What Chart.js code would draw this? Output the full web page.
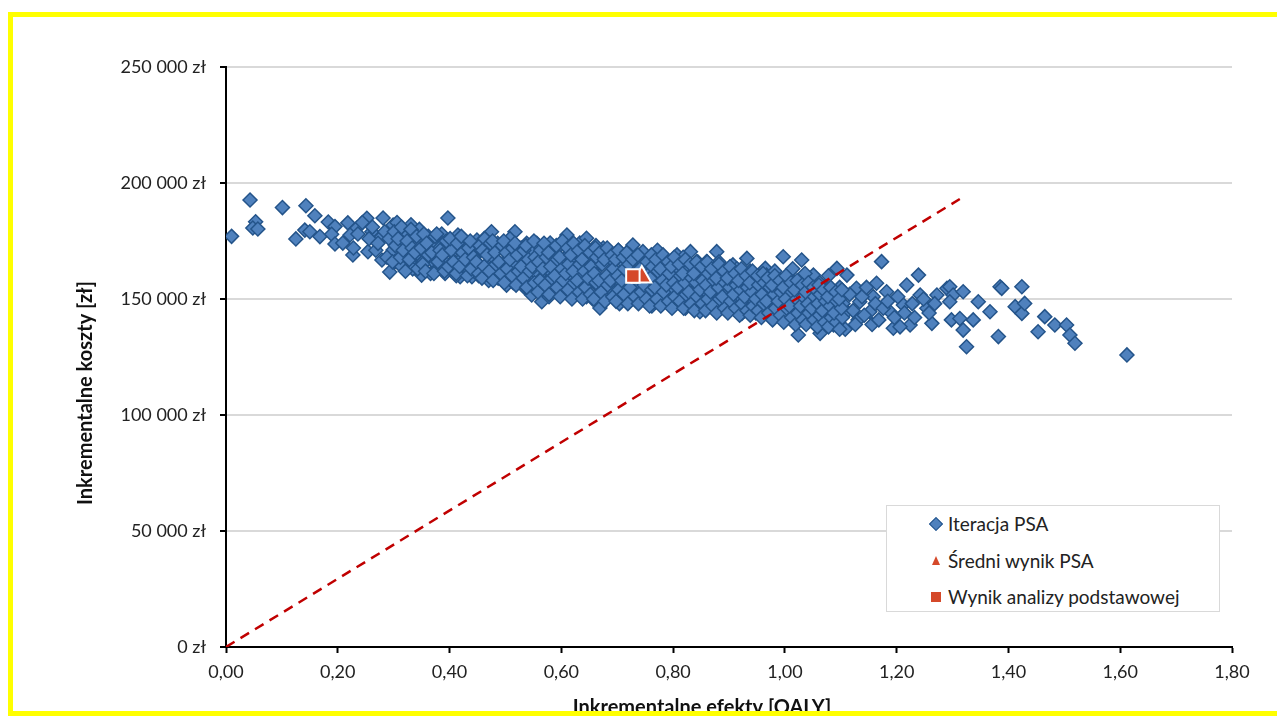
<!DOCTYPE html>
<html lang="pl">
<head>
<meta charset="utf-8">
<title>PSA – płaszczyzna kosztów i efektów</title>
<script src="https://cdn.jsdelivr.net/npm/chart.js@4.4.1/dist/chart.umd.min.js"></script>
<style>
  html,body{margin:0;padding:0;background:#fff;overflow:hidden}
  #wrap{position:relative;width:1277px;height:716px}
  #chart{position:absolute;left:0;top:0}
  #frame{position:absolute;left:8px;top:12px;width:1300px;height:704px;border:5px solid #ffff00;box-sizing:border-box;pointer-events:none;z-index:3}
  #legend{position:absolute;left:886px;top:505px;width:334px;height:107px;box-sizing:border-box;border:1px solid #d9d9d9;background:#fff;font:19px Lato,sans-serif;color:#222;z-index:2}
  .item{position:absolute;left:0;width:100%;height:24px}
  .item .txt{position:absolute;left:61px;top:0;line-height:24px;white-space:nowrap}
  .mk{position:absolute}
  .mk.dia{left:44px;top:7px;width:8px;height:8px;background:#4F81BD;border:1px solid #24548A;transform:rotate(45deg)}
  .mk.tri{left:45px;top:7px;width:0;height:0;border-left:4.5px solid transparent;border-right:4.5px solid transparent;border-bottom:9px solid #D5492A}
  .mk.sq{left:44px;top:7px;width:10px;height:10px;background:#D5492A}
</style>
</head>
<body>
<div id="wrap">
  <canvas id="chart" width="1277" height="716"></canvas>
  <div id="legend">
    <div class="item" style="top:6px"><div class="mk dia"></div><span class="txt">Iteracja PSA</span></div>
    <div class="item" style="top:43px"><div class="mk tri"></div><span class="txt">Średni wynik PSA</span></div>
    <div class="item" style="top:79px"><div class="mk sq"></div><span class="txt">Wynik analizy podstawowej</span></div>
  </div>
  <div id="frame"></div>
</div>
<script>
/* ------------ data (QALY, koszt w tys. zł) ------------ */
// pojedyncze punkty (brzegi chmury)
const psaSparse = [
  [0.010,177.0],[0.043,192.7],[0.053,183.3],[0.048,180.6],[0.057,180.2],[0.101,189.4],[0.125,175.9],[0.143,190.2],
  [0.159,185.9],[0.141,179.7],[0.150,179.0],[0.168,176.9],[0.183,183.2],[0.195,181.2],[0.189,177.9],[0.195,173.7],
  [0.218,182.8],[0.209,174.1],[0.227,169.0],[0.234,180.5],[0.222,177.6],[0.252,184.8],[0.254,170.4],[0.261,179.0],
  [0.281,184.9],[0.276,176.3],[0.293,161.6],[0.279,166.8],[0.299,171.1],[0.311,174.1],[0.311,179.0],[0.299,181.9],
  [0.323,169.0],[0.397,184.9],[0.350,160.3],[0.323,179.0],[0.335,176.9],[0.323,169.8],[0.347,172.5],[0.371,174.1],
  [0.371,166.1],[0.389,175.4],[0.401,171.1],[0.415,177.6],[0.419,159.6],[0.428,166.8],[0.440,159.6],[0.449,175.4],
  [0.457,163.9],[0.475,179.0],[0.475,169.0],[0.490,172.5],[0.487,159.0],[0.502,156.0],[0.517,179.0],[0.511,161.8],
  [0.523,169.8],[0.538,174.0],[0.544,163.9],[0.547,151.7],[0.565,148.8],[0.562,159.6],[0.567,169.8],[0.580,174.1],
  [0.592,165.4],[0.610,177.6],[0.612,169.0],[0.621,159.6],[0.633,174.1],[0.639,151.0],[0.642,164.7],[0.645,176.2],
  [0.669,146.1],[0.645,151.0],[0.657,163.4],[0.675,172.0],[0.687,156.0],[0.693,166.1],[0.728,173.3],[0.710,151.7],
  [0.746,170.4],[0.753,148.8],[0.771,164.7],[0.777,153.1],[0.789,158.9],[0.807,169.0],[0.813,148.8],[0.825,163.2],
  [0.831,170.4],[0.842,156.0],[0.848,144.5],[0.860,166.1],[0.878,170.4],[0.871,151.7],[0.884,160.3],[0.902,146.0],
  [0.907,164.7],[0.920,154.6],[0.932,167.5],[0.923,143.8],[0.943,158.9],[0.955,150.3],[0.965,163.2],[0.997,168.2],
  [1.173,166.1],[0.967,160.3],[0.967,148.8],[0.985,156.0],[0.991,144.5],[1.021,141.0],[1.024,134.5],[1.030,166.8],
  [1.009,158.9],[1.033,151.7],[1.051,160.3],[1.063,135.2],[1.069,147.4],[1.075,156.0],[1.093,163.2],[1.087,138.8],
  [1.111,160.3],[1.111,144.5],[1.128,154.6],[1.131,141.0],[1.134,148.8],[1.152,144.5],[1.164,156.8],[1.158,151.0],
  [1.182,153.1],[1.188,144.5],[1.194,137.4],[1.218,156.0],[1.212,147.4],[1.224,138.8],[1.239,160.3],[1.242,151.7],
  [1.254,146.0],[1.263,139.5],[1.272,151.7],[1.290,154.6],[1.295,155.3],[1.301,151.7],[1.295,148.8],[1.319,153.1],
  [1.298,141.0],[1.313,141.6],[1.319,136.6],[1.337,141.0],[1.325,129.4],[1.346,148.8],[1.367,144.5],[1.382,133.8],
  [1.385,155.3],[1.388,154.6],[1.424,155.3],[1.412,146.7],[1.424,143.8],[1.429,148.1],[1.453,135.9],[1.465,142.4],
  [1.483,138.8],[1.504,138.8],[1.510,134.5],[1.519,130.9],[1.612,125.9]
];

// wnętrze chmury – punkty szacowane z gęstego pasa
const psaFill = [
  [0.228,172],[0.236,178],[0.244,183],[0.256,176],[0.262,181],[0.268,171],[0.272,174],[0.284,179],[0.288,168],
  [0.292,176],[0.302,166],[0.306,183],[0.314,164],[0.318,171],[0.326,178],[0.331,182],[0.334,163],[0.338,168],
  [0.342,175],[0.346,180],[0.352,166],[0.356,171],[0.362,177],[0.366,161],[0.374,168],[0.378,163],[0.382,172],
  [0.386,178],[0.392,161],[0.396,165],[0.404,170],[0.408,174],[0.412,160],[0.418,164],[0.424,168],[0.432,173],
  [0.436,162],[0.444,167],[0.452,160],[0.456,171],[0.462,176],[0.466,164],[0.470,158],[0.478,163],[0.482,167],
  [0.486,174],[0.494,161],[0.498,166],[0.506,170],[0.508,176],[0.514,157],[0.518,164],[0.526,160],[0.528,172],
  [0.534,155],[0.536,167],[0.542,158],[0.548,170],[0.552,162],[0.556,174],[0.558,154],[0.566,165],[0.572,157],
  [0.574,171],[0.578,151],[0.584,161],[0.588,168],[0.594,155],[0.598,173],[0.602,158],[0.606,163],[0.614,152],
  [0.618,167],[0.624,171],[0.628,155],[0.632,161],[0.636,166],[0.648,157],[0.652,168],[0.656,150],[0.662,173],
  [0.664,160],[0.668,155],[0.672,165],[0.678,151],[0.682,169],[0.684,159],[0.692,153],[0.696,162],[0.702,171],
  [0.704,148],[0.708,157],[0.714,165],[0.718,152],[0.722,169],[0.726,150],[0.734,164],[0.738,155],[0.742,167],
  [0.748,152],[0.756,161],[0.758,168],[0.762,147],[0.766,157],[0.772,171],[0.776,150],[0.782,162],[0.786,166],
  [0.792,148],[0.796,154],[0.802,160],[0.806,164],[0.812,152],[0.818,168],[0.822,146],[0.826,157],[0.834,150],
  [0.838,162],[0.844,166],[0.852,153],[0.856,159],[0.862,148],[0.866,163],[0.874,157],[0.876,145],[0.882,166],
  [0.888,150],[0.892,154],[0.896,161],[0.904,157],[0.912,148],[0.914,163],[0.918,151],[0.926,159],[0.928,145],
  [0.934,155],[0.938,162],[0.946,149],[0.948,144],[0.952,157],[0.958,153],[0.962,146],[0.972,152],[0.974,158],
  [0.978,143],[0.982,162],[0.988,149],[0.994,154],[1.002,146],[1.004,159],[1.008,151],[1.014,163],[1.016,143],
  [1.022,156],[1.028,148],[1.036,161],[1.038,140],[1.042,153],[1.046,145],[1.054,150],[1.058,138],[1.062,157],
  [1.066,142],[1.072,153],[1.078,160],[1.082,146],[1.088,150],[1.096,141],[1.098,155],[1.104,148],[1.108,137],
  [1.116,152],[1.122,145],[1.126,139],[1.138,151],[1.142,143],[1.146,155],[1.156,139],[1.162,148],[1.168,141],
  [1.176,146],[1.184,149],[1.196,142],[1.202,151],[1.206,138],[1.214,144],[1.228,148],[1.232,142],[1.248,150],
  [1.258,144],[1.268,148]
];

// rdzeń pasa – najgęstsza część chmury
const psaCore = [
  [0.298,166],[0.303,173],[0.301,179],[0.312,168],[0.308,176],[0.314,181],[0.321,162],[0.317,171],[0.324,175],
  [0.328,167],[0.333,172],[0.331,180],[0.343,163],[0.338,170],[0.341,177],[0.352,165],[0.349,172],[0.354,178],
  [0.357,162],[0.362,169],[0.359,174],[0.372,161],[0.368,170],[0.374,177],[0.379,166],[0.383,171],[0.377,178],
  [0.391,162],[0.387,169],[0.394,175],[0.398,164],[0.403,171],[0.401,176],[0.412,161],[0.407,166],[0.414,174],
  [0.418,164],[0.423,170],[0.421,177],[0.432,160],[0.428,167],[0.434,172],[0.439,163],[0.443,168],[0.437,175],
  [0.452,161],[0.448,166],[0.454,173],[0.458,159],[0.462,164],[0.459,171],[0.463,176],[0.471,162],[0.467,169],
  [0.473,174],[0.478,158],[0.483,165],[0.481,170],[0.477,175],[0.492,161],[0.488,166],[0.494,173],[0.498,157],
  [0.503,163],[0.501,170],[0.497,175],[0.512,160],[0.508,167],[0.513,172],[0.519,156],[0.523,162],[0.521,169],
  [0.517,174],[0.532,159],[0.528,164],[0.533,171],[0.538,155],[0.543,162],[0.541,167],[0.537,173],[0.552,157],
  [0.548,164],[0.553,168],[0.551,175],[0.558,153],[0.562,158],[0.559,166],[0.563,171],[0.571,156],[0.567,163],
  [0.573,168],[0.569,174],[0.578,152],[0.583,159],[0.581,164],[0.577,170],[0.592,155],[0.588,160],[0.593,167],
  [0.591,173],[0.598,151],[0.603,158],[0.601,163],[0.597,168],[0.602,175],[0.612,154],[0.608,161],[0.613,165],
  [0.611,172],[0.619,150],[0.623,157],[0.621,162],[0.617,169],[0.622,174],[0.632,153],[0.628,158],[0.633,165],
  [0.631,171],[0.638,150],[0.643,155],[0.641,162],[0.637,167],[0.642,173],[0.652,152],[0.648,159],[0.653,164],
  [0.651,170],[0.658,150],[0.662,157],[0.659,161],[0.663,168],[0.661,172],[0.671,153],[0.667,158],[0.673,165],
  [0.669,170],[0.678,149],[0.683,156],[0.681,160],[0.677,167],[0.682,172],[0.692,151],[0.688,158],[0.693,163],
  [0.691,169],[0.698,149],[0.703,154],[0.701,160],[0.697,167],[0.702,171],[0.712,152],[0.708,158],[0.713,163],
  [0.711,168],[0.719,148],[0.723,155],[0.721,165],[0.717,170],[0.732,151],[0.728,167],[0.738,148],[0.743,153],
  [0.741,163],[0.737,169],[0.752,150],[0.748,156],[0.753,166],[0.758,147],[0.762,154],[0.759,159],[0.763,164],
  [0.761,169],[0.771,150],[0.767,155],[0.773,162],[0.769,167],[0.778,147],[0.783,153],[0.781,158],[0.777,163],
  [0.782,169],[0.792,149],[0.788,156],[0.793,161],[0.791,166],[0.798,146],[0.803,151],[0.801,157],[0.797,164],
  [0.802,168],[0.812,149],[0.808,155],[0.813,160],[0.811,165],[0.819,146],[0.823,152],[0.821,157],[0.817,161],
  [0.822,167],[0.832,148],[0.828,153],[0.833,159],[0.831,165],[0.838,145],[0.843,151],[0.841,157],[0.837,161],
  [0.842,166],[0.852,148],[0.848,154],[0.853,158],[0.851,164],[0.858,145],[0.862,150],[0.859,156],[0.863,161],
  [0.861,166],[0.871,147],[0.867,153],[0.873,158],[0.869,163],[0.878,144],[0.883,150],[0.881,155],[0.877,159],
  [0.882,165],[0.892,146],[0.888,151],[0.893,157],[0.891,162],[0.898,144],[0.903,149],[0.901,155],[0.897,159],
  [0.902,164],[0.912,146],[0.908,152],[0.913,156],[0.911,161],[0.919,143],[0.923,148],[0.921,154],[0.917,158],
  [0.922,163],[0.932,145],[0.928,151],[0.933,155],[0.931,160],[0.938,143],[0.943,147],[0.941,153],[0.937,157],
  [0.942,162],[0.952,145],[0.948,150],[0.953,156],[0.951,160],[0.958,142],[0.962,148],[0.959,152],[0.963,157],
  [0.961,161],[0.971,144],[0.967,149],[0.973,155],[0.969,159],[0.978,141],[0.983,146],[0.981,152],[0.977,156],
  [0.982,160],[0.992,143],[0.988,149],[0.993,153],[0.991,158],[0.998,140],[1.003,146],[1.001,150],[0.997,155],
  [1.002,160],[1.012,142],[1.008,147],[1.013,153],[1.011,157],[1.019,139],[1.023,144],[1.021,150],[1.017,154],
  [1.022,158],[1.032,141],[1.028,147],[1.033,151],[1.031,156],[1.038,139],[1.043,144],[1.041,148],[1.037,153],
  [1.042,157],[1.052,141],[1.048,146],[1.053,151],[1.051,155],[1.058,138],[1.062,143],[1.059,148],[1.063,152],
  [1.061,156],[1.071,140],[1.067,145],[1.073,149],[1.069,154],[1.078,138],[1.083,142],[1.081,147],[1.077,151],
  [1.082,155],[1.092,140],[1.088,144],[1.093,149],[1.091,153],[1.098,137],[1.103,142],[1.101,146],[1.097,150],
  [1.102,154]
];

const meanPsa   = [[0.744,159.5]];           // Średni wynik PSA
const baseCase  = [[0.728,159.9]];           // Wynik analizy podstawowej
const wtpQaly   = [0, 1.313];                // linia progu opłacalności
const wtpCost   = [0, 193.1];

const X_MIN = 0, X_MAX = 1.8, X_STEP = 0.2;
const Y_MIN = 0, Y_MAX = 250, Y_STEP = 50;   // tys. zł
const xTitle = 'Inkrementalne efekty [QALY]';
const yTitle = 'Inkrementalne koszty [zł]';

/* ------------ helpers ------------ */
const pt = ([q,c]) => ({x:q, y:c*1000});
function fmtZl(v){return String(Math.round(v)).replace(/\B(?=(\d{3})+(?!\d))/g,' ')+' zł';}
function fmtQ(v){return v.toFixed(2).replace('.',',');}

const psaData = [...psaSparse, ...psaFill, ...psaCore].map(pt);

const RED = '#D5492A';
const FONT = 'Lato, "Open Sans", sans-serif';

const axisTitles = {
  id:'axisTitles',
  afterDraw(c){
    const g=c.ctx; g.save();
    g.font='bold 20px '+FONT; g.fillStyle='#111'; g.textAlign='center'; g.textBaseline='middle';
    g.fillText(xTitle, 702, 708);
    g.translate(86,393); g.rotate(-Math.PI/2); g.fillText(yTitle,0,0);
    g.restore();
  }
};

new Chart(document.getElementById('chart'),{
  type:'scatter',
  data:{datasets:[
    {label:'Wynik analizy podstawowej',data:baseCase.map(pt),pointStyle:'rect',pointRadius:9.5,
     backgroundColor:RED,borderColor:'#fff',borderWidth:2,order:0},
    {label:'Średni wynik PSA',data:meanPsa.map(pt),pointStyle:'triangle',pointRadius:11,
     backgroundColor:RED,borderColor:'#fff',borderWidth:2,order:1},
    {label:'WTP',type:'line',data:wtpQaly.map((q,i)=>pt([q,wtpCost[i]])),borderColor:'#C00000',
     borderWidth:2.5,borderDash:[10,7],pointRadius:0,fill:false,tension:0,order:2},
    {label:'Iteracja PSA',data:psaData,pointStyle:'rectRot',pointRadius:7,
     backgroundColor:'#4F81BD',borderColor:'#24548A',borderWidth:1.5,order:3}
  ]},
  options:{
    responsive:false,animation:false,
    layout:{padding:{top:67,right:45,left:0,bottom:0}},
    plugins:{legend:{display:false},tooltip:{enabled:false}},
    scales:{
      x:{type:'linear',min:X_MIN,max:X_MAX,
         ticks:{stepSize:X_STEP,callback:v=>fmtQ(v),color:'#222',font:{family:FONT,size:18},padding:8},
         grid:{drawOnChartArea:false,tickLength:6,tickColor:'#000',tickWidth:2},
         border:{color:'#000',width:2},
         afterFit(s){s.height=69;}},
      y:{min:Y_MIN*1000,max:Y_MAX*1000,
         ticks:{stepSize:Y_STEP*1000,callback:v=>fmtZl(v),color:'#222',font:{family:FONT,size:18},padding:14},
         grid:{color:'#d9d9d9',lineWidth:2,tickLength:6,tickColor:'#000',tickWidth:2},
         border:{color:'#000',width:2},
         afterFit(s){s.width=226;}}
    }
  },
  plugins:[axisTitles]
});
</script>
</body>
</html>
